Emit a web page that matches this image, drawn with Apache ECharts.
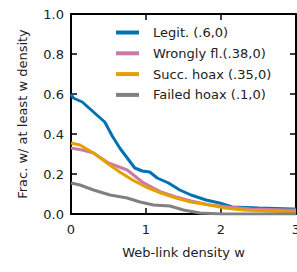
<!DOCTYPE html>
<html>
<head>
<meta charset="utf-8">
<script src="https://cdn.jsdelivr.net/npm/echarts@6/dist/echarts.min.js"></script>
<style>
  html, body { margin: 0; padding: 0; background: #fff; }
  #main { width: 297px; height: 272px; }
</style>
</head>
<body>
<div id="main"></div>
<script>
// values
var legitX = [0, 0.03, 0.15, 0.3, 0.45, 0.55, 0.65, 0.75, 0.85, 0.95, 1.05, 1.15, 1.3, 1.45, 1.6, 1.8, 1.98, 2.15, 2.5, 2.95, 3];
var legitY = [0.6, 0.58, 0.56, 0.51, 0.46, 0.39, 0.33, 0.28, 0.23, 0.215, 0.21, 0.18, 0.155, 0.12, 0.095, 0.07, 0.055, 0.035, 0.03, 0.025, 0.025];

var wrongX = [0, 0.15, 0.3, 0.5, 0.75, 0.95, 1.2, 1.4, 1.6, 1.85, 2.1, 2.4, 2.9, 3];
var wrongY = [0.33, 0.32, 0.305, 0.255, 0.22, 0.16, 0.11, 0.085, 0.065, 0.045, 0.035, 0.025, 0.02, 0.02];

var hoaxX = [0, 0.12, 0.3, 0.48, 0.65, 0.82, 1.0, 1.2, 1.4, 1.6, 1.85, 2.05, 2.3, 2.95, 3];
var hoaxY = [0.355, 0.345, 0.305, 0.255, 0.21, 0.17, 0.135, 0.105, 0.08, 0.06, 0.045, 0.03, 0.02, 0.01, 0.01];

var failX = [0, 0.12, 0.3, 0.52, 0.75, 0.92, 1.1, 1.32, 1.5, 1.72, 2.0, 3];
var failY = [0.155, 0.145, 0.12, 0.095, 0.08, 0.06, 0.045, 0.04, 0.02, 0.005, 0, 0];

var names = ["Legit. (.6,0)", "Wrongly fl.(.38,0)", "Succ. hoax (.35,0)", "Failed hoax (.1,0)"];
var colors = ["#0072B2", "#CC79A7", "#E69F00", "#808080"];
var xTicks = [0, 1, 2, 3];

function pairs(xs, ys) {
  var out = [];
  for (var i = 0; i < xs.length; i++) out.push([xs[i], ys[i]]);
  return out;
}

var font = "DejaVu Sans";
// fresh objects per axis; canvas renderer dropped the axis strokes, svg keeps them
function axisLine() {
  return { show: true, onZero: false, lineStyle: { color: "#000", width: 2 } };
}
function tick() {
  return { show: true, inside: true, length: 6, lineStyle: { color: "#000", width: 1.5 } };
}

var option = {
  animation: false,
  grid: { left: 71, top: 14, right: 1, bottom: 58, outerBoundsMode: "none", containLabel: false },
  legend: {
    top: 26,
    left: 116,
    padding: 0,
    orient: "vertical",
    itemWidth: 23,
    itemHeight: 4,
    itemGap: 7.8,
    icon: "rect",
    textStyle: { fontFamily: font, fontSize: 13, color: "#222", padding: [0, 0, 0, 9] },
    data: names
  },
  xAxis: [
    {
      type: "value", min: 0, max: 3, interval: 1, position: "bottom",
      name: "Web-link density w", nameLocation: "middle", nameGap: 32,
      nameTextStyle: { fontFamily: font, fontSize: 13, color: "#222" },
      axisLine: axisLine(), axisTick: tick(), splitLine: { show: false },
      axisLabel: { fontFamily: font, fontSize: 13, color: "#222", margin: 9,
        formatter: function (v) { return xTicks.indexOf(v) >= 0 ? String(v) : ""; } }
    },
    {
      type: "value", min: 0, max: 3, interval: 1, position: "top",
      axisLine: axisLine(), axisTick: tick(), axisLabel: { show: false }, splitLine: { show: false }
    }
  ],
  yAxis: [
    {
      type: "value", min: 0, max: 1, interval: 0.2, position: "left",
      name: "Frac. w/ at least w density", nameLocation: "middle", nameGap: 42,
      nameTextStyle: { fontFamily: font, fontSize: 13, color: "#222" },
      axisLine: axisLine(), axisTick: tick(), splitLine: { show: false },
      axisLabel: { fontFamily: font, fontSize: 13, color: "#222", margin: 7,
        formatter: function (v) { return v.toFixed(1); } }
    },
    {
      type: "value", min: 0, max: 1, interval: 0.2, position: "right",
      axisLine: axisLine(), axisTick: tick(), axisLabel: { show: false }, splitLine: { show: false }
    }
  ],
  series: [
    { name: names[0], data: pairs(legitX, legitY), z: 2 },
    { name: names[1], data: pairs(wrongX, wrongY), z: 3 },
    { name: names[2], data: pairs(hoaxX, hoaxY), z: 4 },
    { name: names[3], data: pairs(failX, failY), z: 5 }
  ].map(function (s, i) {
    return Object.assign({
      type: "line",
      showSymbol: false,
      color: colors[i],
      lineStyle: { width: 3, color: colors[i] },
      clip: true
    }, s);
  })
};

var myChart = echarts.init(document.getElementById("main"), null, { renderer: "svg" });
myChart.setOption(option);
</script>
</body>
</html>
